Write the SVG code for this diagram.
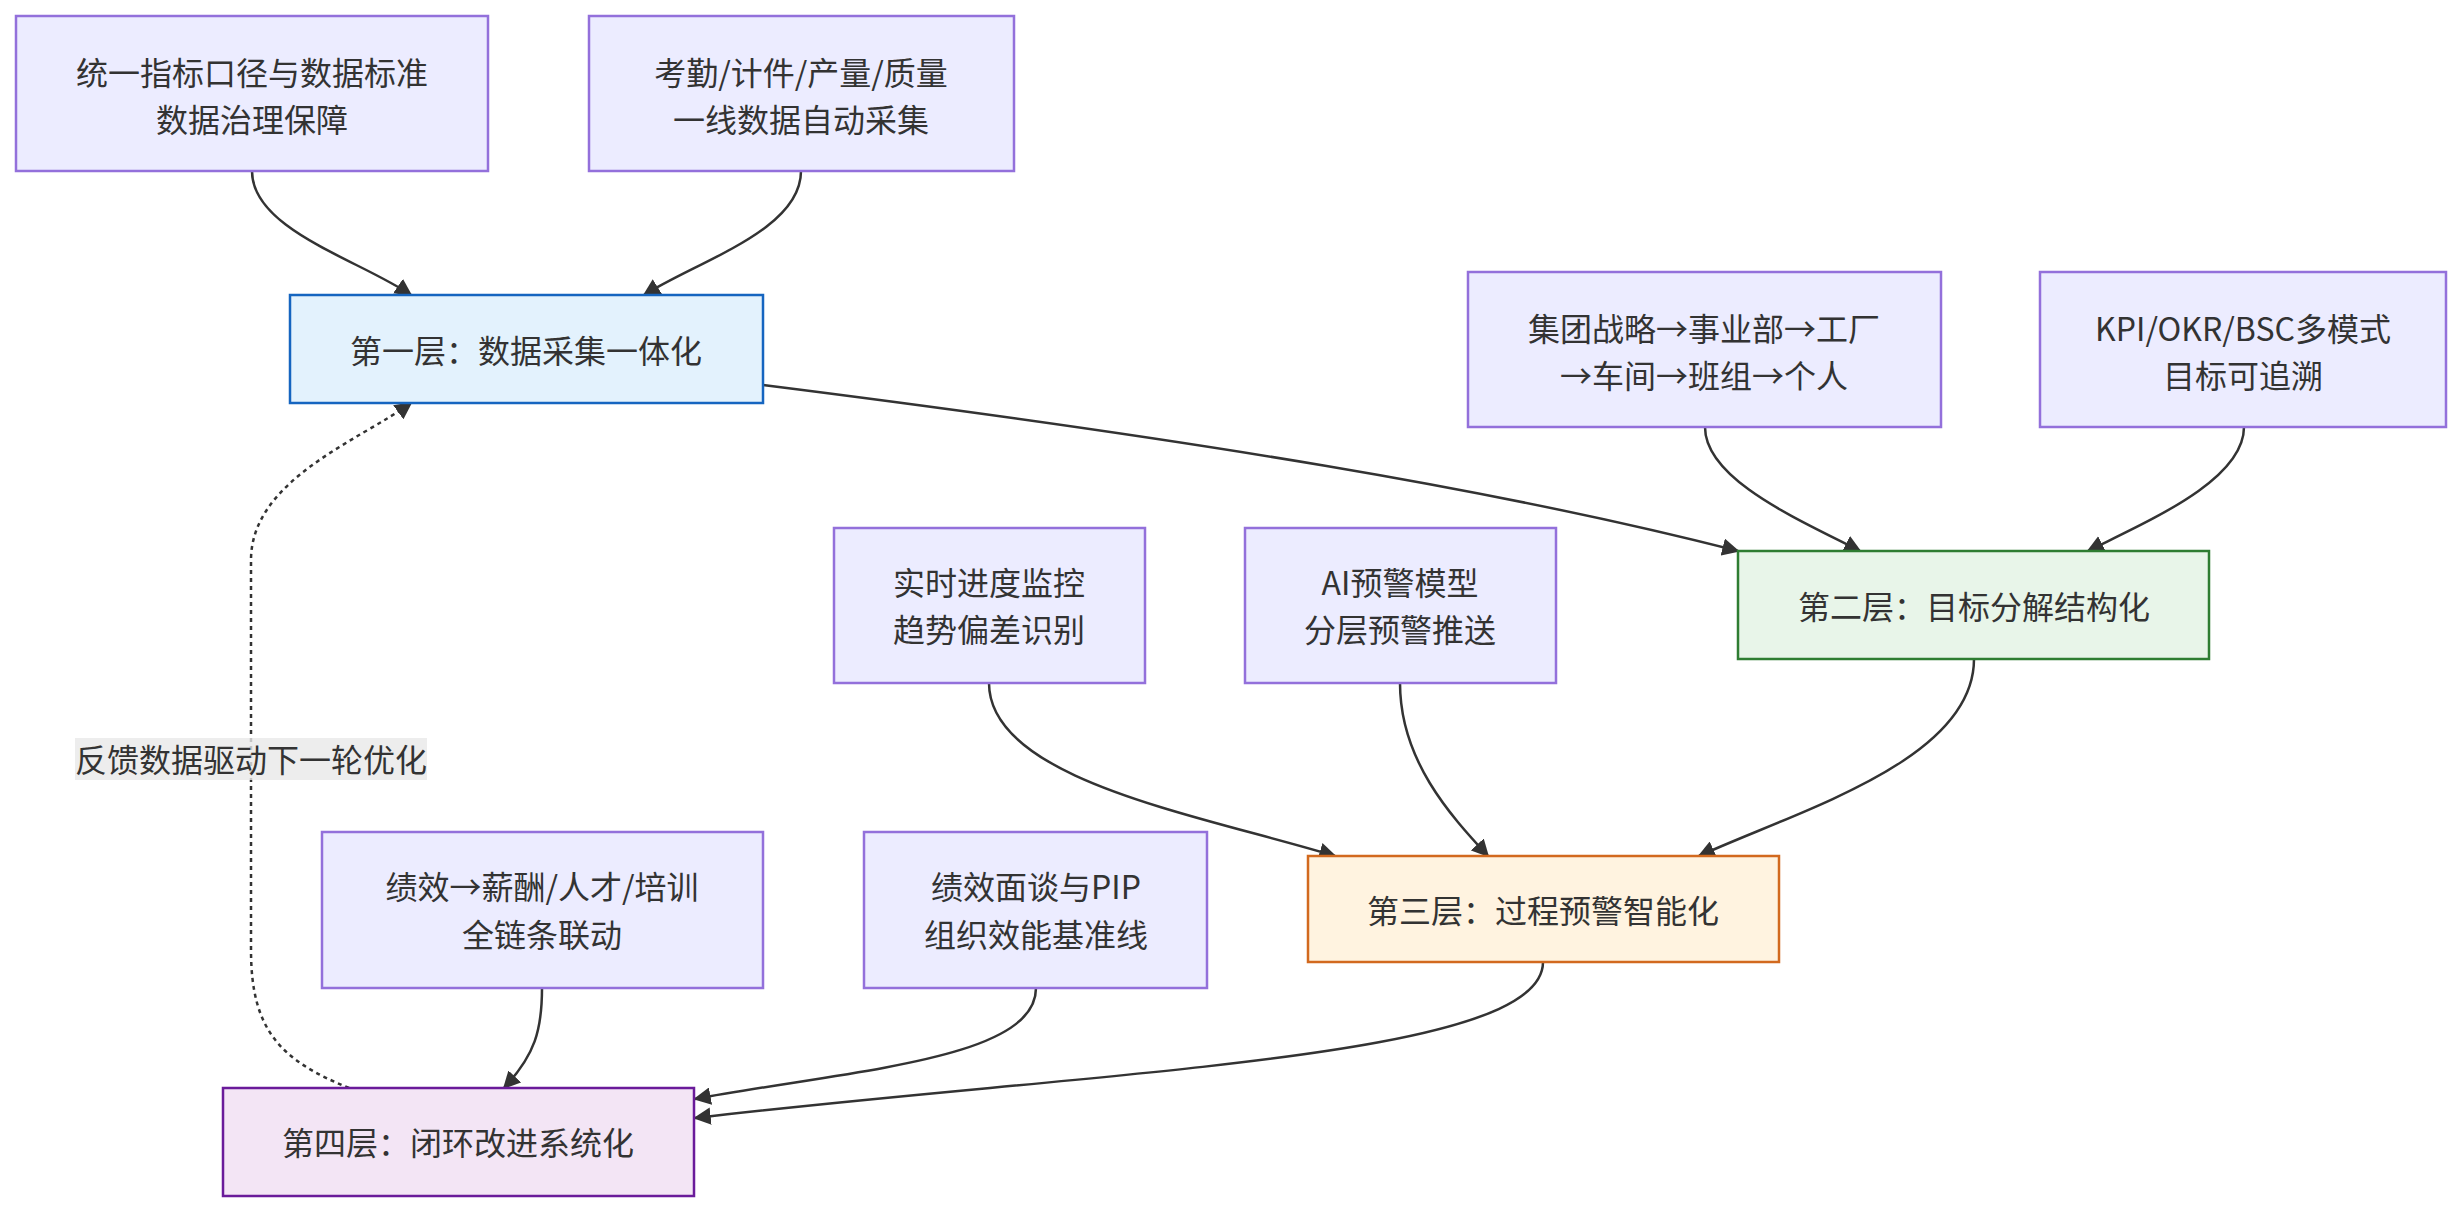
<svg xmlns="http://www.w3.org/2000/svg" width="2462" height="1212" viewBox="0 0 2462 1212">
<style>
text{font-family:"Noto Sans CJK SC","Noto Sans",sans-serif;font-size:32px;fill:#333;text-anchor:middle;dominant-baseline:central}
.n{fill:#ECECFF;stroke:#9370DB;stroke-width:2.5}
.e{fill:none;stroke:#333;stroke-width:2.5;marker-end:url(#a)}
</style>
<defs><marker id="a" viewBox="0 0 10 10" refX="9" refY="5" markerWidth="7" markerHeight="7" orient="auto"><path d="M0,0L10,5L0,10z" fill="#333"/></marker></defs>
<rect width="2462" height="1212" fill="#fff"/>
<g id="connectors">
<path class="e" d="M252,171 C252,230 360,260 411,295"/>
<path class="e" d="M801,171 C801,230 700,260 644,295"/>
<path class="e" d="M763,385 C1200,440 1500,490 1738,551"/>
<path class="e" d="M1705,427 C1705,480 1800,520 1860,551"/>
<path class="e" d="M2244,427 C2244,480 2150,520 2088,551"/>
<path class="e" d="M989,683 C989,780 1200,815 1335,856"/>
<path class="e" d="M1400,683 C1400,760 1450,815 1488,856"/>
<path class="e" d="M1974,659 C1974,760 1800,810 1699,856"/>
<path class="e" d="M542,988 C542,1030 535,1055 504,1088"/>
<path class="e" d="M1036,988 C1036,1060 850,1070 695,1099"/>
<path class="e" d="M1543,962 C1543,1060 1100,1070 695,1118"/>
<path class="e" d="M349,1088 C280,1060 251,1030 251,950 L251,560 C251,480 360,440 411,403" stroke-dasharray="4 4"/>
<rect x="75" y="738" width="352" height="42" fill="#e8e8e8" opacity="0.8"/>
<text x="251" y="758">反馈数据驱动下一轮优化</text>
</g>
<g id="n1"><rect class="n" x="16" y="16" width="472" height="155"/><text x="252" y="71">统一指标口径与数据标准</text><text x="252" y="118">数据治理保障</text></g>
<g id="n2"><rect class="n" x="589" y="16" width="425" height="155"/><text x="801" y="71">考勤/计件/产量/质量</text><text x="801" y="118">一线数据自动采集</text></g>
<g id="l1"><rect x="290" y="295" width="473" height="108" fill="#E3F2FD" stroke="#1565C0" stroke-width="2.5"/><text x="526" y="349">第一层：数据采集一体化</text></g>
<g id="n3"><rect class="n" x="1468" y="272" width="473" height="155"/><text x="1704" y="327">集团战略→事业部→工厂</text><text x="1704" y="374">→车间→班组→个人</text></g>
<g id="n4"><rect class="n" x="2040" y="272" width="406" height="155"/><text x="2243" y="327">KPI/OKR/BSC多模式</text><text x="2243" y="374">目标可追溯</text></g>
<g id="l2"><rect x="1738" y="551" width="471" height="108" fill="#E8F5E9" stroke="#2E7D32" stroke-width="2.5"/><text x="1974" y="605">第二层：目标分解结构化</text></g>
<g id="n5"><rect class="n" x="834" y="528" width="311" height="155"/><text x="989" y="581">实时进度监控</text><text x="989" y="628">趋势偏差识别</text></g>
<g id="n6"><rect class="n" x="1245" y="528" width="311" height="155"/><text x="1400" y="581">AI预警模型</text><text x="1400" y="628">分层预警推送</text></g>
<g id="l3"><rect x="1308" y="856" width="471" height="106" fill="#FFF3E0" stroke="#D2691E" stroke-width="2.5"/><text x="1543" y="909">第三层：过程预警智能化</text></g>
<g id="n7"><rect class="n" x="322" y="832" width="441" height="156"/><text x="542" y="885">绩效→薪酬/人才/培训</text><text x="542" y="933">全链条联动</text></g>
<g id="n8"><rect class="n" x="864" y="832" width="343" height="156"/><text x="1036" y="885">绩效面谈与PIP</text><text x="1036" y="933">组织效能基准线</text></g>
<g id="l4"><rect x="223" y="1088" width="471" height="108" fill="#F3E5F5" stroke="#6A1B9A" stroke-width="2.5"/><text x="458" y="1141">第四层：闭环改进系统化</text></g>
</svg>
